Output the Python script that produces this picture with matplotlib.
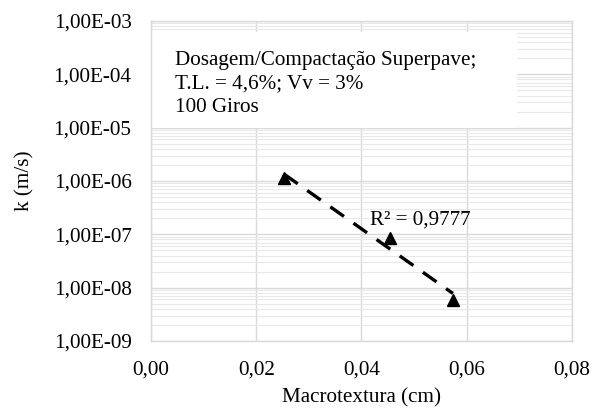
import numpy as np
import matplotlib
matplotlib.use('Agg')
import matplotlib.pyplot as plt
from matplotlib.ticker import LogLocator, FuncFormatter, MultipleLocator, NullFormatter
from matplotlib.patches import Rectangle

# macrotextura x permeabilidade
macrotextura = [0.0253, 0.0454, 0.0574]
k_ms = [1.13e-6, 8.5e-8, 5.8e-9]
r2_label = 'R² = 0,9777'
info_lines = ['Dosagem/Compactação Superpave;', 'T.L. = 4,6%; Vv = 3%', '100 Giros']

plt.rcParams['font.family'] = ['Liberation Serif', 'DejaVu Serif']
plt.rcParams['font.size'] = 15.2

fig = plt.figure(figsize=(5.92, 4.09), dpi=100)
ax = fig.add_axes([0.255, 0.1663, 0.711, 0.7824])

ax.set_yscale('log')
ax.set_xlim(0, 0.08)
ax.set_ylim(1e-9, 1e-3)

# grade principal e secundaria
ax.yaxis.set_major_locator(LogLocator(base=10, numticks=10))
ax.yaxis.set_minor_locator(LogLocator(base=10, subs=np.arange(2, 10), numticks=20))
ax.yaxis.set_minor_formatter(NullFormatter())
ax.xaxis.set_major_locator(MultipleLocator(0.02))
ax.grid(True, which='major', color='#d9d9d9', linewidth=1.0)
ax.grid(True, which='minor', axis='y', color='#e8e8e8', linewidth=0.8)
ax.set_axisbelow(True)

ax.yaxis.set_major_formatter(FuncFormatter(lambda v, p: f'{v:.2E}'.replace('.', ',')))
ax.xaxis.set_major_formatter(FuncFormatter(lambda v, p: f'{v:.2f}'.replace('.', ',')))
ax.tick_params(which='both', length=0)
ax.tick_params(axis='y', pad=14)
ax.tick_params(axis='x', pad=14)

for spine in ax.spines.values():
    spine.set_color('#d9d9d9')
    spine.set_linewidth(1.0)

# linha de tendencia exponencial (ajuste em log)
x = np.array(macrotextura)
y = np.array(k_ms)
b, a = np.polyfit(x, np.log10(y), 1)
xt = np.array([x.min(), x.max()])
ax.plot(xt, 10 ** (a + b * xt), color='black', linewidth=2.4,
        dashes=(5, 3.5), zorder=3)

ax.plot(x, y, linestyle='none', marker='^', color='black',
        markersize=8.5, zorder=4)

ax.text(0.0416, 10 ** -6.73, r2_label, va='center', ha='left', zorder=5)

# caixa de texto
ax.add_patch(Rectangle((0.002, 0.666), 0.867, 0.30, transform=ax.transAxes,
                       facecolor='white', edgecolor='none', zorder=2))
for i, line in enumerate(info_lines):
    ax.text(0.057, 0.8625 - i * 0.0735, line, transform=ax.transAxes,
            va='baseline', ha='left', zorder=5)

ax.set_xlabel('Macrotextura (cm)', labelpad=6)
ax.set_ylabel('k (m/s)', labelpad=14)

fig.savefig('out.png', dpi=100)
